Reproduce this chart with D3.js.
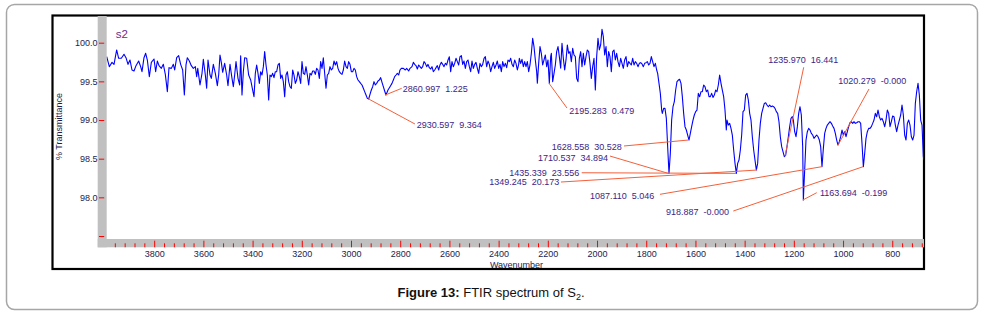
<!DOCTYPE html>
<html><head><meta charset="utf-8">
<script src="https://cdn.jsdelivr.net/npm/d3@7"></script>
<style>
html,body{margin:0;padding:0;background:#fff;}
svg{display:block;font-family:Arial,"Liberation Sans",Helvetica,sans-serif;}
</style></head><body>
<svg id="chart" width="984" height="317"></svg>
<script>
// ---------- DATA ----------
// FTIR spectrum of S2 : [wavenumber (cm-1), % transmittance]
const spectrumHigh = [
[3993.0,99.819],[3982.3,99.690],[3971.5,99.746],[3963.3,99.720],[3952.5,99.906],[3944.4,99.798],[3933.5,99.798],[3922.7,99.850],[3914.6,99.806],[3906.4,99.720],[3898.3,99.776],[3890.2,99.647],[3882.0,99.634],[3873.9,99.703],[3863.1,99.763],[3855.0,99.690],[3849.5,99.625],[3841.4,99.806],[3834.6,99.863],[3827.8,99.776],[3819.7,99.561],[3811.6,99.746],[3800.7,99.789],[3794.0,99.625],[3787.2,99.763],[3780.4,99.703],[3771.0,99.668],[3762.8,99.720],[3754.7,99.591],[3746.5,99.367],[3739.8,99.677],[3730.3,99.668],[3722.2,99.720],[3716.7,99.647],[3708.6,99.806],[3700.5,99.832],[3692.4,99.720],[3684.2,99.647],[3677.4,99.324],[3670.7,99.712],[3665.2,99.806],[3657.1,99.763],[3649.0,99.703],[3640.9,99.668],[3632.7,99.690],[3627.3,99.561],[3622.9,99.668],[3613.8,99.453],[3605.6,99.604],[3600.2,99.785],[3592.1,99.582],[3586.7,99.410],[3581.2,99.776],[3573.1,99.582],[3567.7,99.539],[3559.6,99.720],[3551.4,99.604],[3543.3,99.444],[3537.9,99.582],[3532.5,99.841],[3527.1,99.746],[3521.6,99.617],[3513.5,99.733],[3505.4,99.582],[3500.0,99.444],[3491.8,99.720],[3483.7,99.539],[3478.3,99.431],[3472.9,99.582],[3467.4,99.755],[3459.3,99.539],[3452.5,99.453],[3448.5,99.832],[3443.1,99.324],[3437.6,99.625],
[3432.2,99.806],[3424.1,99.798],[3416.0,99.582],[3407.8,99.518],[3399.7,99.388],[3394.3,99.302],[3388.9,99.604],[3383.4,99.712],[3378.0,99.604],[3372.6,99.474],[3367.2,99.625],[3361.8,99.582],[3356.3,99.690],[3350.9,99.884],[3345.5,99.712],[3340.1,99.582],[3334.7,99.259],[3329.3,99.582],[3323.8,99.561],[3318.4,99.604],[3313.0,99.548],[3307.6,99.625],[3302.2,99.625],[3296.7,99.712],[3291.3,99.733],[3285.9,99.539],[3280.5,99.582],[3275.1,99.496],[3269.6,99.302],[3264.2,99.582],[3258.8,99.625],[3253.4,99.496],[3248.0,99.431],[3242.5,99.410],[3237.1,99.647],[3231.7,99.582],[3226.3,99.474],[3220.9,99.518],[3215.4,99.625],[3210.0,99.561],[3204.6,99.474],[3199.2,99.755],[3193.8,99.604],[3188.3,99.591],[3182.9,99.690],[3177.5,99.582],[3172.1,99.453],[3166.7,99.604],[3161.3,99.582],[3155.8,99.634],[3150.4,99.634],[3145.0,99.591],[3139.6,99.668],[3134.2,99.647],[3128.7,99.539],[3123.3,99.755],[3117.9,99.668],[3112.5,99.806],[3107.1,99.604],[3101.6,99.410],[3096.2,99.582],[3090.8,99.604],[3085.4,99.690],[3080.0,99.647],[3074.5,99.668],[3069.1,99.763],[3063.7,99.712],[3058.3,99.755],[3052.9,99.668],[3047.4,99.625],[3042.0,99.604],[3036.6,99.591],[3031.2,99.647],[3025.8,99.763],[3020.3,99.690],[3014.9,99.668],[3009.5,99.755],[3004.1,99.720],[2998.7,99.625],[2993.2,99.625],[2987.8,99.668],[2982.4,99.647],[2977.0,99.561],[2971.6,99.518],[2966.1,99.496],[2960.7,99.474],[2955.3,99.453],[2949.9,99.410],[2944.5,99.367],[2939.0,99.323],[2933.6,99.280],[2928.2,99.272],[2922.8,99.332],[2917.4,99.388],[2911.9,99.431],[2906.5,99.496],[2901.1,99.453],[2895.7,99.474],[2890.3,99.505],[2884.9,99.518],[2879.4,99.548]
];
const spectrumMid = [
[2874.0,99.487],[2868.6,99.431],[2863.2,99.375],[2857.8,99.323],[2849.6,99.388],[2841.5,99.431],[2833.4,99.474],[2827.9,99.518],[2822.5,99.561],[2817.1,99.582],[2811.7,99.604],[2806.3,99.582],[2800.9,99.647],[2795.4,99.668],[2787.3,99.668],[2779.2,99.647],[2773.7,99.668],[2765.6,99.634],[2760.2,99.668],[2752.1,99.690],[2746.6,99.746],[2741.2,99.720],[2735.8,99.703],[2730.4,99.660],[2725.0,99.712],[2719.6,99.690],[2714.1,99.668],[2708.7,99.690],[2703.3,99.755],[2697.9,99.733],[2692.5,99.690],[2687.0,99.720],[2681.6,99.677],[2676.2,99.660],[2670.8,99.690],[2665.4,99.625],[2659.9,99.647],[2654.5,99.677],[2649.1,99.703],[2643.7,99.647],[2638.3,99.712],[2632.8,99.746],[2627.4,99.720],[2622.0,99.690],[2616.6,99.733],[2611.2,99.712],[2605.7,99.776],[2600.3,99.819],[2594.9,99.625],[2589.5,99.755],[2584.1,99.690],[2578.6,99.733],[2573.2,99.798],[2567.8,99.755],[2562.4,99.712],[2557.0,99.819],[2551.5,99.832],[2546.1,99.720],[2540.7,99.763],[2535.3,99.668],[2529.9,99.755],[2524.4,99.776],[2519.0,99.690],[2513.6,99.625],[2508.2,99.763],[2502.8,99.668],[2497.3,99.720],[2491.9,99.746],[2486.5,99.668],[2481.1,99.604],[2475.7,99.733],[2470.3,99.690],[2464.8,99.720],[2459.4,99.798],[2454.0,99.819],[2448.6,99.690],[2443.2,99.763],[2437.7,99.720],[2432.3,99.625],[2426.9,99.690],[2421.5,99.746],[2416.1,99.668],[2410.6,99.712],[2405.2,99.763],[2399.8,99.668],[2394.4,99.720],[2389.0,99.625],[2383.5,99.755],[2378.1,99.690],[2372.7,99.733],[2367.3,99.677],[2361.9,99.776],[2356.4,99.755],[2351.0,99.798],[2345.6,99.720],[2340.2,99.690],[2334.8,99.776],[2329.4,99.733],[2323.9,99.647],[2318.5,99.720],
[2315.8,99.798],[2310.4,99.733],[2305.0,99.785],[2299.6,99.690],[2294.1,99.755],[2288.7,99.690],[2283.3,99.755],[2277.9,99.626],[2272.5,99.712],[2267.0,99.863],[2261.6,100.057],[2256.2,99.949],[2250.8,99.777],[2245.4,99.626],[2242.6,99.475],[2237.2,99.733],[2231.8,99.949],[2226.4,99.863],[2221.0,99.712],[2215.5,99.777],[2210.1,99.841],[2204.7,99.690],[2199.3,99.777],[2193.9,99.475],[2188.4,99.820],[2185.7,99.863],[2180.3,99.496],[2174.9,99.604],[2169.5,99.712],[2164.1,99.884],[2158.6,99.949],[2153.2,99.820],[2147.8,99.669],[2142.4,99.992],[2137.0,99.798],[2131.5,99.647],[2126.1,99.777],[2120.7,99.971],[2115.3,99.863],[2109.9,99.884],[2104.4,99.755],[2099.0,99.927],[2093.6,99.841],[2088.2,99.820],[2082.8,99.539],[2077.4,99.496],[2071.9,99.798],[2066.5,99.884],[2061.1,99.690],[2055.7,99.863],[2050.3,99.712],[2044.8,99.820],[2039.4,99.906],[2034.0,99.884],[2028.6,99.733],[2023.2,99.539],[2017.7,99.690],[2012.3,99.798],[2006.9,99.388],[2001.5,99.820],[1996.1,100.057],[1990.6,99.906],[1985.2,99.971],[1979.8,100.173],[1974.4,100.078],[1969.0,99.841],[1963.5,99.949],[1958.1,99.690],[1952.7,99.884],[1947.3,99.820],[1941.9,99.626],[1936.4,99.884],[1931.0,99.906],[1925.6,99.777],[1920.2,99.863],[1914.8,99.755],[1909.3,99.690],[1903.9,99.798],[1898.5,99.733],[1893.1,99.669],[1887.7,99.777],[1882.2,99.820],[1876.8,99.690],[1871.4,99.755],[1866.0,99.733],[1860.6,99.712],[1855.1,99.798],[1849.7,99.712],[1844.3,99.755],[1838.9,99.733],[1833.5,99.690],[1828.0,99.733],[1822.6,99.742],[1817.2,99.725],[1811.8,99.690],[1806.4,99.733],[1801.0,99.742],[1795.5,99.755],[1790.1,99.712],[1784.7,99.733],[1779.3,99.820],[1773.9,99.755],[1768.4,99.690],[1763.0,99.733],[1757.6,99.647]
];
const spectrumLow = [
[1753.6,99.604],[1748.1,99.474],[1742.7,99.345],[1737.3,99.129],[1734.6,99.086],[1729.2,99.151],[1723.8,99.151],[1718.3,99.021],[1712.9,98.655],[1707.5,98.310],[1702.1,98.569],[1696.7,99.000],[1691.2,99.172],[1685.8,99.237],[1680.4,99.388],[1675.0,99.496],[1669.6,99.517],[1664.1,99.526],[1658.7,99.474],[1653.3,99.302],[1647.9,99.086],[1642.5,98.914],[1637.0,98.871],[1631.6,98.806],[1626.2,98.741],[1620.8,98.827],[1615.4,98.914],[1609.9,99.000],[1604.5,99.065],[1599.1,99.108],[1593.7,99.129],[1588.3,99.345],[1582.8,99.302],[1577.4,99.366],[1572.0,99.366],[1566.6,99.453],[1561.2,99.431],[1555.8,99.366],[1550.3,99.388],[1544.9,99.302],[1539.5,99.302],[1534.1,99.345],[1528.7,99.293],[1523.2,99.323],[1517.8,99.388],[1512.4,99.366],[1507.0,99.453],[1501.6,99.582],[1496.1,99.474],[1490.7,99.388],[1485.3,99.302],[1479.9,99.129],[1474.5,98.871],[1471.7,99.000],[1466.3,98.935],[1460.9,98.957],[1455.5,98.892],[1450.1,98.806],[1444.6,98.612],[1439.2,98.439],[1433.8,98.310],[1428.4,98.439],[1423.0,98.482],[1417.5,98.612],[1412.1,98.806],[1406.7,99.108],[1401.3,99.129],[1395.9,99.323],[1390.4,99.345],[1385.0,99.259],[1379.6,99.086],[1374.2,99.000],[1368.8,98.784],[1363.3,98.612],[1357.9,98.482],[1352.5,98.353],[1347.1,98.439],[1341.7,98.741],[1336.3,98.957],[1330.8,99.086],[1325.4,99.151],[1320.0,99.215],[1314.6,99.224],[1309.2,99.194],[1303.7,99.172],[1298.3,99.194],[1292.9,99.172],[1287.5,99.181],[1282.1,99.172],[1276.6,99.151],[1271.2,99.108],[1265.8,99.086],[1260.4,98.978],[1255.0,98.784],[1249.5,98.655],[1244.1,98.590],[1238.7,98.526],[1233.3,98.547],[1227.9,98.655],[1222.4,98.784],[1217.0,98.914],[1211.6,99.021],[1206.2,99.043],
[1202.1,99.000],[1196.7,98.849],[1191.2,98.784],[1185.8,98.914],[1180.4,99.086],[1175.0,99.172],[1169.6,99.065],[1164.1,98.655],[1161.4,97.965],[1156.0,98.353],[1150.6,98.741],[1145.2,98.849],[1139.8,98.892],[1134.3,98.871],[1128.9,98.827],[1123.5,98.806],[1118.1,98.763],[1112.7,98.784],[1107.2,98.806],[1101.8,98.784],[1096.4,98.741],[1091.0,98.655],[1085.6,98.396],[1080.1,98.633],[1074.7,98.827],[1069.3,98.892],[1063.9,98.935],[1058.5,98.957],[1053.0,98.978],[1047.6,98.957],[1042.2,98.922],[1036.8,98.892],[1031.4,98.827],[1025.9,98.741],[1020.5,98.676],[1015.1,98.720],[1009.7,98.784],[1004.3,98.871],[998.9,98.806],[993.4,98.849],[988.0,98.784],[982.6,98.849],[977.2,98.914],[971.8,98.965],[966.3,98.978],[960.9,98.957],[955.5,98.978],[950.1,98.957],[944.7,98.965],[939.2,98.978],[933.8,98.978],[928.4,98.957],[923.0,98.698],[917.5,98.396],[912.1,98.569],[906.7,98.763],[901.3,98.849],[895.9,98.892],[890.4,98.892],[885.0,98.914],[879.6,98.957],[874.2,99.000],[868.8,99.086],[863.4,99.043],[857.9,99.129],[852.5,99.043],[847.1,99.000],[841.7,99.021],[836.3,98.978],[830.8,98.914],[825.4,99.000],[820.0,99.129],[814.6,99.086],[809.2,98.914],[803.7,98.978],[798.3,99.052],[792.9,99.043],[787.5,98.935],[782.1,98.849],[776.6,98.935],[771.2,99.000],[765.8,99.065],[760.4,99.194],[755.0,99.065],[749.5,98.806],[744.1,98.741],[738.7,98.957],[733.3,99.000],[727.9,98.935],[722.4,98.784],[717.0,98.741],[711.6,98.806],[706.2,99.215],[700.8,99.366],[695.3,99.474],[689.9,99.323],[684.5,99.000],[679.1,98.935],[673.7,98.526],[671.0,98.482]
];

const xDomain = [3993, 671];
const yDomain = [97.5, 100.0];
const xMajorTicks = [3800,3600,3400,3200,3000,2800,2600,2400,2200,2000,1800,1600,1400,1200,1000,800];
const yTicks = [100.0, 99.5, 99.0, 98.5, 98.0, 97.5];
const yTickLabels = ["100.0","99.5","99.0","98.5","98.0",""];

// peak annotations
const peakLabels = ["2860.997  1.225","2930.597  9.364","2195.283  0.479","1628.558  30.528","1710.537  34.894","1435.339  23.556","1349.245  20.173","1087.110  5.046","918.887  -0.000","1163.694  -0.199","1235.970  16.441","1020.279  -0.000"];
const peakWn = [2860.997,2930.597,2195.283,1628.558,1710.537,1435.339,1349.245,1087.110,918.887,1163.694,1235.970,1020.279];
const peakT  = [99.323,99.276,99.475,98.741,98.310,98.310,98.353,98.396,98.396,97.965,98.534,98.677];
const leaderWn = [2793.9,2739.9,2122.1,1890.4,1947.3,2062.3,2146.5,1744.1,1446.1,1107.1,1160.0,894.6];
const leaderT  = [99.410,98.948,99.155,98.664,98.534,98.318,98.198,98.039,97.823,98.060,99.682,99.401];
const labelWn = [2789.9,2733.0,2112.7,1899.7,1955.4,2072.1,2153.4,2028.6,1719.7,1093.8,1303.9,1019.9];
const labelT  = [99.405,98.935,99.125,98.655,98.517,98.318,98.194,98.017,97.814,98.052,99.776,99.508];
const labelAnchor = ["start","start","start","end","end","end","end","start","start","start","start","start"];

const sampleName = "s2";
const xTitle = "Wavenumber";
const yTitle = "% Transmittance";

// ---------- DRAW ----------
const svg = d3.select("#chart");
const plotL = 106.7, plotR = 924, plotT = 16, plotB = 239;

const x = d3.scaleLinear().domain(xDomain).range([plotL, plotR]);
const y = d3.scaleLinear().domain(yDomain).range([236, 42.7]);

// outer rounded panel
svg.append("rect").attr("x",6.5).attr("y",4.5).attr("width",971).attr("height",305)
  .attr("rx",8).attr("fill","#fff").attr("stroke","#a6a6a6").attr("stroke-width",1.5);

// inner black frame
svg.append("rect").attr("x",52.5).attr("y",15.5).attr("width",871.5).attr("height",253.5)
  .attr("fill","none").attr("stroke","#000").attr("stroke-width",2.2);

// gray axis bars
svg.append("rect").attr("x",97.7).attr("y",16).attr("width",9).attr("height",231.3).attr("fill","#c0c0c0");
svg.append("rect").attr("x",97.7).attr("y",239).attr("width",plotR-97.7).attr("height",8.3).attr("fill","#c0c0c0");

const labelColor = "#1c1c4e";

// x axis: minor ticks
const minorTicks = d3.range(680, 3993, 40).filter(v => v % 200 !== 0);
const xMinor = svg.append("g").attr("transform","translate(0,243.3)")
  .call(d3.axisBottom(x).tickValues(minorTicks).tickSize(4).tickFormat(""));
xMinor.select(".domain").remove();
xMinor.selectAll("line").attr("stroke","#ff0000");

// x axis: major ticks + labels
const xMajor = svg.append("g").attr("transform","translate(0,240.7)")
  .call(d3.axisBottom(x).tickValues(xMajorTicks).tickSize(6.6).tickFormat(d3.format("d")));
xMajor.select(".domain").remove();
xMajor.selectAll("line").attr("stroke","#ff0000");
xMajor.selectAll("text").attr("y",13.2).attr("dy","0.35em")
  .attr("fill",labelColor).style("font-size","9px").style("font-family","Arial, 'Liberation Sans', sans-serif");

// y axis
const yAxis = svg.append("g").attr("transform","translate(104.2,0)")
  .call(d3.axisLeft(y).tickValues(yTicks).tickSize(5.2).tickPadding(1.5)
        .tickFormat((d,i) => yTickLabels[i]));
yAxis.select(".domain").remove();
yAxis.selectAll("line").attr("stroke","#ff0000");
yAxis.selectAll("text").attr("fill",labelColor).style("font-size","9px")
  .style("font-family","Arial, 'Liberation Sans', sans-serif");

// axis titles
svg.append("text").attr("x",516.5).attr("y",265).attr("dy","0.35em").attr("text-anchor","middle")
  .attr("fill",labelColor).style("font-size","9px").text(xTitle);
svg.append("text").attr("transform","translate(58.5,126.5) rotate(-90)").attr("dy","0.35em")
  .attr("text-anchor","middle").attr("fill",labelColor).style("font-size","9px").text(yTitle);

// clip
svg.append("clipPath").attr("id","plotclip").append("rect")
  .attr("x",plotL).attr("y",plotT).attr("width",plotR-plotL).attr("height",plotB-plotT);

// spectrum line
const spectrum = spectrumHigh.concat(spectrumMid, spectrumLow);
const line = d3.line().x(d => x(d[0])).y(d => y(d[1]));
svg.append("path").datum(spectrum).attr("clip-path","url(#plotclip)")
  .attr("d",line).attr("fill","none").attr("stroke","#0000ff").attr("stroke-width",1.1)
  .attr("stroke-linejoin","round");

// sample name
svg.append("text").attr("x",x(3956)).attr("y",y(100.067)).attr("fill","#6f2a8c")
  .style("font-size","11.5px").text(sampleName);

// peak annotations
const ann = svg.append("g");
peakLabels.forEach((lab,i) => {
  ann.append("line")
    .attr("x1",x(peakWn[i])).attr("y1",y(peakT[i]))
    .attr("x2",x(leaderWn[i])).attr("y2",y(leaderT[i]))
    .attr("stroke","#f4603a").attr("stroke-width",1);
  ann.append("text")
    .attr("x",x(labelWn[i])).attr("y",y(labelT[i])).attr("dy","0.35em")
    .attr("text-anchor",labelAnchor[i]).attr("fill","#3d1e86")
    .style("font-size","9px").style("white-space","pre").attr("xml:space","preserve")
    .text(lab);
});

// caption
const cap = svg.append("text").attr("x",491).attr("y",297).attr("text-anchor","middle")
  .attr("fill","#111").style("font-size","13px");
cap.append("tspan").attr("font-weight","bold").text("Figure 13:");
cap.append("tspan").text(" FTIR spectrum of S");
cap.append("tspan").attr("dy",3).style("font-size","9px").text("2");
cap.append("tspan").attr("dy",-3).text(".");
</script>
</body></html>
